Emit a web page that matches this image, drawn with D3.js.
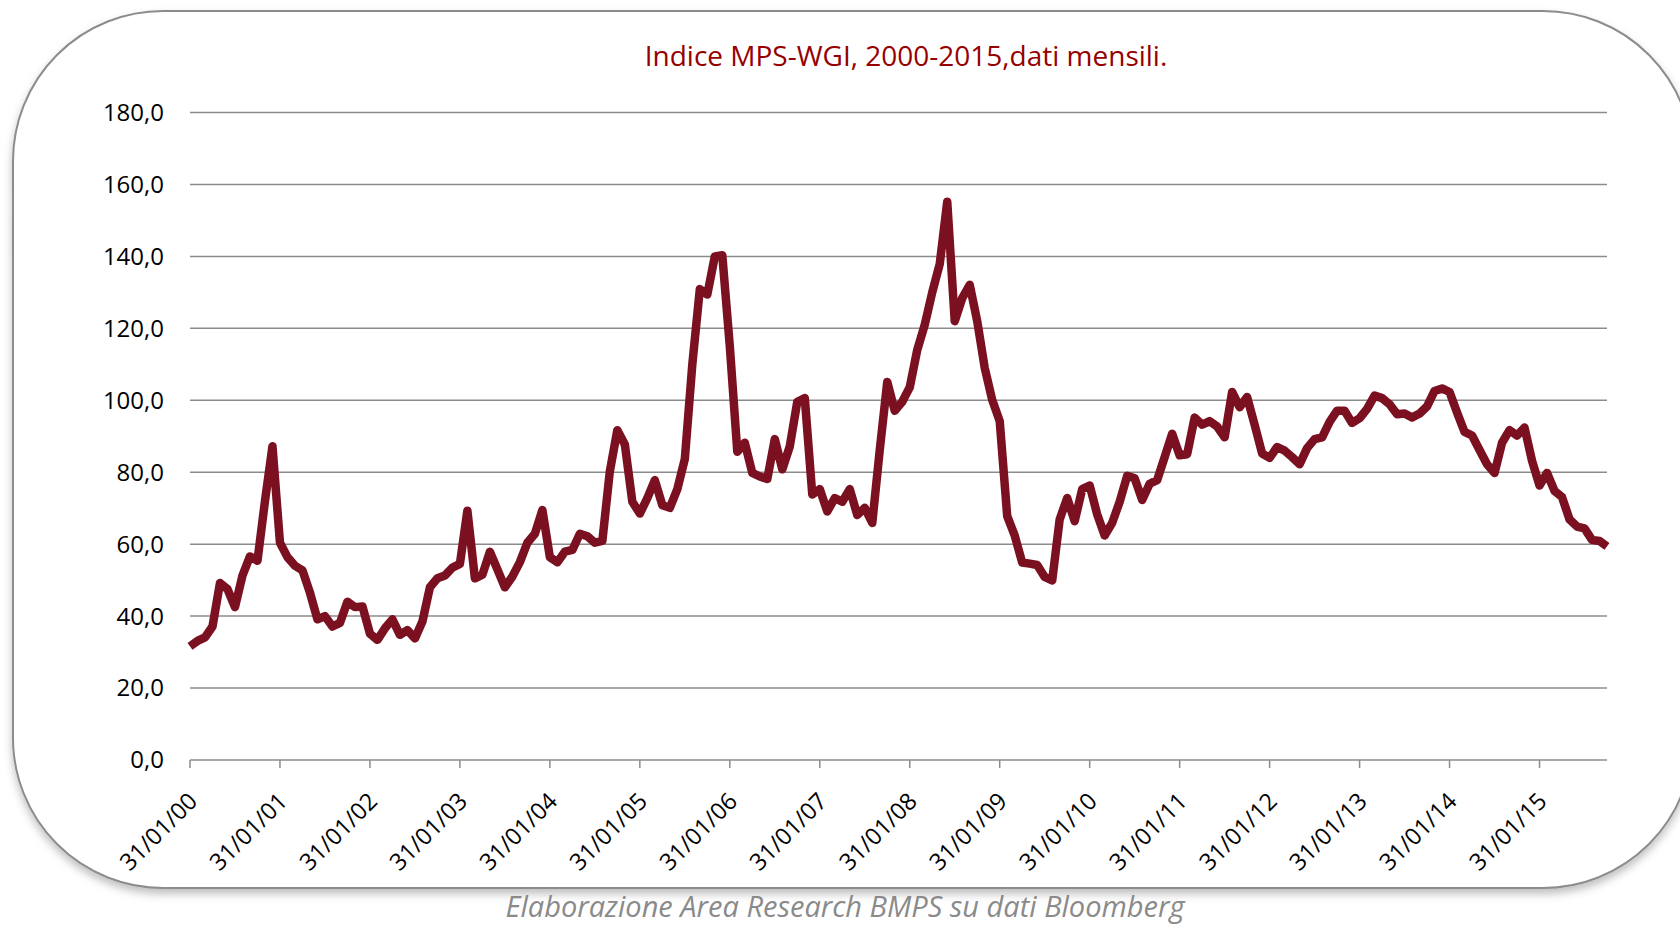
<!DOCTYPE html>
<html>
<head>
<meta charset="utf-8">
<script src="https://cdn.jsdelivr.net/npm/d3@7"></script>
<style>
  body { margin: 0; background: #fff; }
  svg { display: block; font-family: "Open Sans", sans-serif; }
</style>
</head>
<body>
<svg id="chart"></svg>
<script>
// valori mensili, gen 2000 - ott 2015
const values = [
  31.6, 33.1, 34.1, 37.1, 49.2, 47.5, 42.5, 51.3, 56.6, 55.4, 72.0, 87.2,
  60.4, 56.4, 54.0, 52.7, 46.5, 39.1, 40.0, 37.1, 38.1, 44.0, 42.5, 42.7,
  35.1, 33.4, 36.6, 39.1, 34.8, 36.1, 33.8, 38.5, 48.0, 50.5, 51.3, 53.5,
  54.5, 69.3, 50.5, 51.5, 57.9, 53.0, 48.0, 51.0, 55.0, 60.4, 62.9, 69.5,
  56.4, 55.0, 57.9, 58.4, 62.9, 62.2, 60.4, 60.9, 80.3, 91.7, 87.7, 71.8,
  68.5, 72.8, 77.8, 70.8, 70.1, 75.3, 83.7, 110.0, 130.9, 129.4, 140.0, 140.3,
  115.0, 85.7, 88.2, 79.8, 78.8, 78.1, 89.2, 80.8, 87.2, 99.6, 100.6, 73.8,
  75.3, 69.1, 72.8, 71.8, 75.3, 68.1, 70.1, 65.9, 86.2, 105.1, 97.1, 99.6,
  103.6, 114.0, 121.0, 130.0, 137.9, 155.2, 122.0, 128.4, 132.1, 122.0, 109.0, 100.1,
  94.2, 67.8, 62.4, 54.9, 54.6, 54.2, 50.9, 49.9, 66.9, 72.8, 66.4, 75.3,
  76.3, 68.3, 62.4, 65.9, 71.8, 79.0, 78.3, 72.3, 76.8, 77.8, 84.2, 90.7,
  84.7, 85.0, 95.2, 93.2, 94.2, 92.7, 89.7, 102.3, 98.1, 100.9, 93.2, 85.2,
  84.0, 87.0, 86.0, 84.2, 82.2, 86.7, 89.2, 89.7, 94.0, 97.1, 97.1, 93.7,
  95.0, 97.6, 101.3, 100.6, 98.9, 96.1, 96.3, 95.2, 96.3, 98.3, 102.6, 103.3,
  102.3, 96.6, 91.2, 90.2, 86.2, 82.2, 79.8, 88.2, 91.7, 90.2, 92.4, 83.2,
  76.3, 79.8, 74.8, 73.1, 66.9, 64.9, 64.4, 61.2, 60.9, 59.4
];
const yTicks = [0, 20, 40, 60, 80, 100, 120, 140, 160, 180];
const xTickLabels = ['31/01/00', '31/01/01', '31/01/02', '31/01/03', '31/01/04', '31/01/05',
  '31/01/06', '31/01/07', '31/01/08', '31/01/09', '31/01/10', '31/01/11',
  '31/01/12', '31/01/13', '31/01/14', '31/01/15'];
const title = 'Indice MPS-WGI, 2000-2015,dati mensili.';
const source = 'Elaborazione Area Research BMPS su dati Bloomberg';

const W = 1680, H = 926;
const margin = { top: 112.5, right: 73, bottom: 166, left: 190 };
const width = W - margin.left - margin.right;
const height = H - margin.top - margin.bottom;

const svg = d3.select('#chart').attr('width', W).attr('height', H);

const defs = svg.append('defs');
const f = defs.append('filter').attr('id', 'shadow')
  .attr('x', '-5%').attr('y', '-5%').attr('width', '110%').attr('height', '115%');
f.append('feDropShadow').attr('dx', 0).attr('dy', 5).attr('stdDeviation', 4)
  .attr('flood-color', '#000').attr('flood-opacity', 0.25);

// cornice arrotondata
svg.append('rect')
  .attr('x', 13).attr('y', 11)
  .attr('width', 1680).attr('height', 877)
  .attr('rx', 150).attr('ry', 150)
  .attr('fill', '#fff')
  .attr('stroke', '#8c8c8c')
  .attr('stroke-width', 2)
  .attr('filter', 'url(#shadow)');

const g = svg.append('g').attr('transform', `translate(${margin.left},${margin.top})`);

const x = d3.scalePoint().domain(d3.range(values.length)).range([0, width]);
const y = d3.scaleLinear().domain([0, 180]).range([height, 0]);

// griglia
g.append('g')
  .selectAll('line')
  .data(yTicks.filter((d) => d > 0))
  .join('line')
  .attr('x1', 0).attr('x2', width)
  .attr('y1', (d) => y(d)).attr('y2', (d) => y(d))
  .attr('stroke', '#8c8c8c')
  .attr('stroke-width', 1.5);

// asse Y
g.append('g')
  .selectAll('text')
  .data(yTicks)
  .join('text')
  .attr('x', -26)
  .attr('y', (d) => y(d))
  .attr('dy', '0.35em')
  .attr('text-anchor', 'end')
  .style('font-size', '24px')
  .attr('fill', '#000')
  .text((d) => d3.format('.1f')(d).replace('.', ','));

// asse X
const tickIdx = xTickLabels.map((d, i) => i * 12);
const xAxis = g.append('g').attr('transform', `translate(0,${height})`);
xAxis.append('line')
  .attr('x1', 0).attr('x2', width)
  .attr('stroke', '#8c8c8c').attr('stroke-width', 1.5);
xAxis.selectAll('.tick')
  .data(tickIdx)
  .join('line')
  .attr('x1', (d) => x(d)).attr('x2', (d) => x(d))
  .attr('y1', 0).attr('y2', 8)
  .attr('stroke', '#8c8c8c').attr('stroke-width', 1.5);
xAxis.selectAll('text')
  .data(tickIdx)
  .join('text')
  .attr('transform', (d) => `translate(${x(d) + 3},${37}) rotate(-45)`)
  .attr('text-anchor', 'end')
  .attr('dy', '0.35em')
  .style('font-size', '23.5px')
  .attr('fill', '#000')
  .text((d, i) => xTickLabels[i]);

// linea
const line = d3.line()
  .x((d, i) => x(i))
  .y((d) => y(d));

g.append('path')
  .datum(values)
  .attr('fill', 'none')
  .attr('stroke', '#7b1020')
  .attr('stroke-width', 8.5)
  .attr('stroke-linejoin', 'round')
  .attr('d', line);

// titolo
svg.append('text')
  .attr('x', 906)
  .attr('y', 56)
  .attr('dy', '0.35em')
  .attr('text-anchor', 'middle')
  .style('font-size', '28px')
  .attr('fill', '#960000')
  .text(title);

// fonte
svg.append('text')
  .attr('x', 845)
  .attr('y', 917)
  .attr('text-anchor', 'middle')
  .style('font-size', '29px')
  .style('font-style', 'italic')
  .attr('fill', '#8a8a8a')
  .text(source);
</script>
</body>
</html>
